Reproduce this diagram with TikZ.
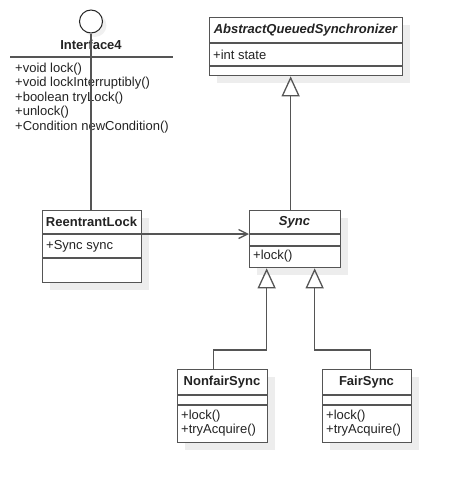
\documentclass[tikz,border=0pt]{standalone}
\usepackage{fontspec}
\setmainfont{Liberation Sans}
\usetikzlibrary{arrows.meta,shadows}
\definecolor{umlline}{RGB}{85,85,85}
\definecolor{umltext}{RGB}{35,35,35}
\tikzset{
  umlbox/.style={draw=umlline, line width=1.3pt, fill=white, anchor=north west, inner sep=0pt,
    drop shadow={shadow xshift=7pt, shadow yshift=-7pt, fill=black!7, opacity=1}},
  clsname/.style={font=\fontsize{13}{15}\selectfont\bfseries, text=umltext, inner sep=0pt},
  absname/.style={clsname, font=\fontsize{13}{15}\selectfont\bfseries\itshape},
  member/.style={anchor=west, inner sep=0pt, text=umltext, font=\fontsize{13}{15}\selectfont},
  sep/.style={draw=umlline, line width=1.3pt},
  inherit/.style={draw=umlline, line width=1.3pt, -{Triangle[open, length=20pt, width=18pt]}},
  assoc/.style={draw=umlline, line width=1.3pt, -{Straight Barb[length=9pt, width=9pt]}}
}
\begin{document}
\begin{tikzpicture}[x=1pt, y=-1pt]
\useasboundingbox (0,0) rectangle (451,482);

% interface
\node[circle, draw=black!85, line width=1pt, fill=white, minimum size=23pt, inner sep=0pt,
  drop shadow={shadow xshift=4pt, shadow yshift=-4pt, fill=black!6, opacity=1}] (iface) at (91,21.5) {};
\node[clsname] (ifacename) at (91,45) {Interface4};
\draw[sep] (10,57) -- (173,57);
\foreach \m [count=\i from 0] in {+void lock(), +void lockInterruptibly(), +boolean tryLock(), +unlock(), +Condition newCondition()}
  \node[member] at (15,{69+14.5*\i}) {\m};

% AbstractQueuedSynchronizer
\node[umlbox, minimum width=193pt, minimum height=58pt] (aqs) at (209,17) {};
\node[absname] (aqsname) at (305.5,30) {AbstractQueuedSynchronizer};
\draw[sep] (209,43) -- (402,43);
\draw[sep] (209,66) -- (402,66);
\node[member] at (213,54.5) {+int state};

% ReentrantLock
\node[umlbox, minimum width=99pt, minimum height=72pt] (reentrant) at (42,210) {};
\node[clsname] (reentrantname) at (91.5,222) {ReentrantLock};
\draw[sep] (42,234) -- (141,234);
\draw[sep] (42,258) -- (141,258);
\node[member] at (46,246) {+Sync sync};

% Sync
\node[umlbox, minimum width=91pt, minimum height=57pt] (sync) at (249,210) {};
\node[absname] (syncname) at (294.5,222) {Sync};
\draw[sep] (249,234) -- (340,234);
\draw[sep] (249,246) -- (340,246);
\node[member] at (253,256.5) {+lock()};

% NonfairSync
\node[umlbox, minimum width=90pt, minimum height=73pt] (nonfair) at (177,369) {};
\node[clsname] (nonfairname) at (222,382) {NonfairSync};
\draw[sep] (177,395) -- (267,395);
\draw[sep] (177,405) -- (267,405);
\node[member] at (181,416.5) {+lock()};
\node[member] at (181,430.5) {+tryAcquire()};

% FairSync
\node[umlbox, minimum width=89pt, minimum height=73pt] (fair) at (322,369) {};
\node[clsname] (fairname) at (366.5,382) {FairSync};
\draw[sep] (322,395) -- (411,395);
\draw[sep] (322,405) -- (411,405);
\node[member] at (326,416.5) {+lock()};
\node[member] at (326,430.5) {+tryAcquire()};

% connectors
\draw[sep] (iface.south) -- (iface.south |- reentrant.north);
\draw[inherit] ([xshift=-4.5pt]sync.north) -- ([xshift=-4.5pt]sync.north |- aqs.south);
\draw[assoc] ([yshift=-24pt]reentrant.north east) -- ([yshift=-24pt]sync.north west);
\draw[inherit] ([xshift=-9pt]nonfair.north) -- ++(0,-19) -| ([xshift=-28.5pt]sync.south);
\draw[inherit] ([xshift=3.5pt]fair.north) -- ++(0,-19) -| ([xshift=19.5pt]sync.south);
\end{tikzpicture}
\end{document}
